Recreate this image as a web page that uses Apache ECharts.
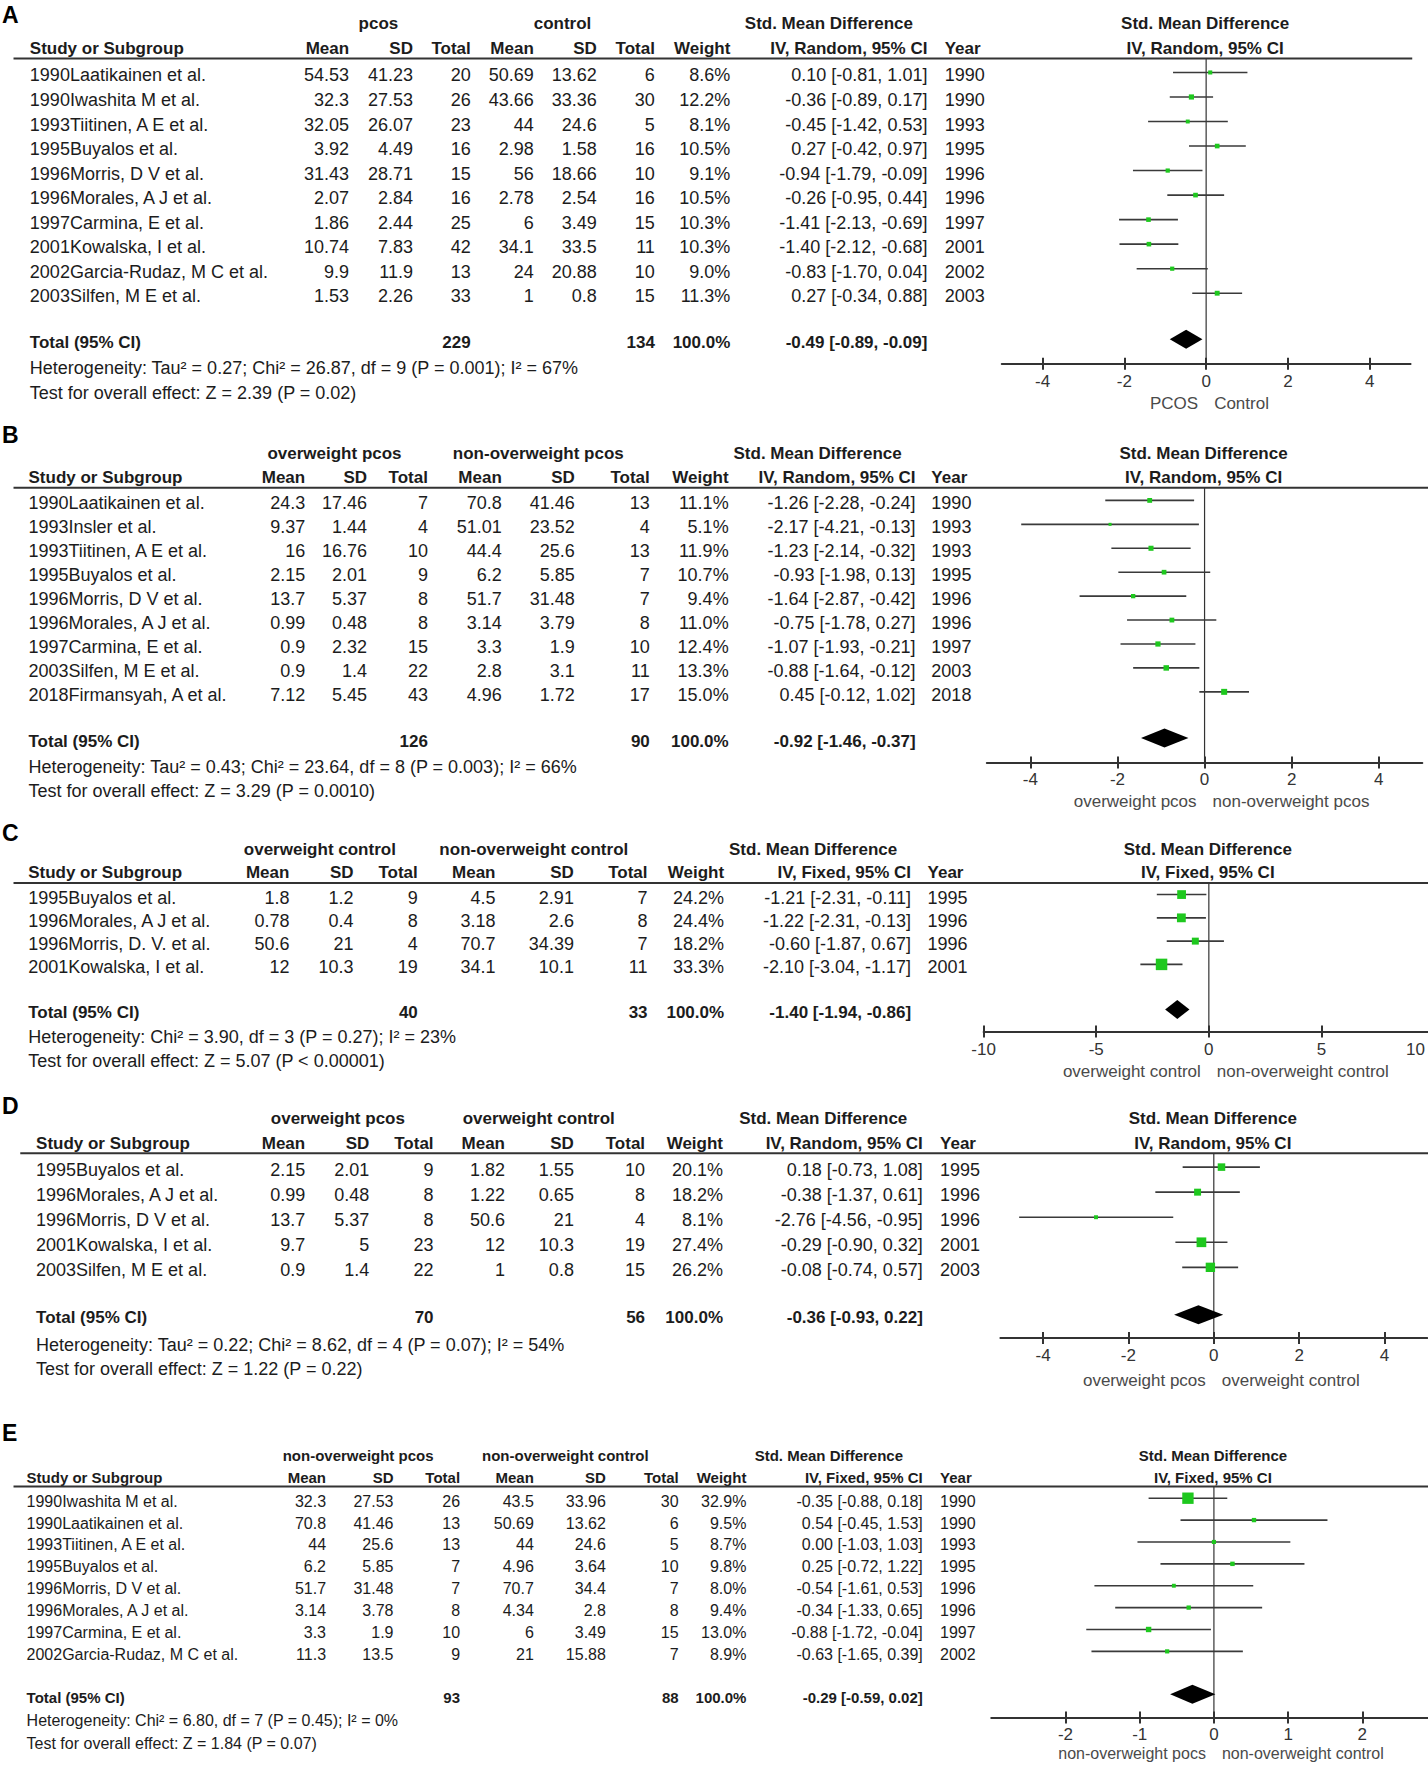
<!DOCTYPE html>
<html><head><meta charset="utf-8">
<script src="https://cdn.jsdelivr.net/npm/echarts@6/dist/echarts.min.js"></script>
<style>html,body{margin:0;padding:0;background:#fff}#c{width:1428px;height:1766px}</style>
</head><body><div id="c"></div>
<script>
// ================= DATA =================
// Panel A
const A_study = ["1990Laatikainen et al.","1990Iwashita M et al.","1993Tiitinen, A E et al.","1995Buyalos et al.","1996Morris, D V et al.","1996Morales, A J et al.","1997Carmina, E et al.","2001Kowalska, I et al.","2002Garcia-Rudaz, M C et al.","2003Silfen, M E et al."];
const A_mean1 = [54.53,32.3,32.05,3.92,31.43,2.07,1.86,10.74,9.9,1.53];
const A_sd1 = [41.23,27.53,26.07,4.49,28.71,2.84,2.44,7.83,11.9,2.26];
const A_n1 = [20,26,23,16,15,16,25,42,13,33];
const A_mean2 = [50.69,43.66,44,2.98,56,2.78,6,34.1,24,1];
const A_sd2 = [13.62,33.36,24.6,1.58,18.66,2.54,3.49,33.5,20.88,0.8];
const A_n2 = [6,30,5,16,10,16,15,11,10,15];
const A_weight = [8.6,12.2,8.1,10.5,9.1,10.5,10.3,10.3,9.0,11.3];
const A_smd = [0.10,-0.36,-0.45,0.27,-0.94,-0.26,-1.41,-1.40,-0.83,0.27];
const A_lo = [-0.81,-0.89,-1.42,-0.42,-1.79,-0.95,-2.13,-2.12,-1.70,-0.34];
const A_hi = [1.01,0.17,0.53,0.97,-0.09,0.44,-0.69,-0.68,0.04,0.88];
const A_year = [1990,1990,1993,1995,1996,1996,1997,2001,2002,2003];
const A_total = [229,134,100.0,-0.49,-0.89,-0.09];
const A_groups = ["pcos","control"];
const A_method = "IV, Random, 95% CI";
const A_het = "Heterogeneity: Tau² = 0.27; Chi² = 26.87, df = 9 (P = 0.001); I² = 67%";
const A_test = "Test for overall effect: Z = 2.39 (P = 0.02)";
const A_ticks = [-4,-2,0,2,4];
const A_range = [-5,5];
const A_sides = ["PCOS","Control"];

// Panel B
const B_study = ["1990Laatikainen et al.","1993Insler et al.","1993Tiitinen, A E et al.","1995Buyalos et al.","1996Morris, D V et al.","1996Morales, A J et al.","1997Carmina, E et al.","2003Silfen, M E et al.","2018Firmansyah, A et al."];
const B_mean1 = [24.3,9.37,16,2.15,13.7,0.99,0.9,0.9,7.12];
const B_sd1 = [17.46,1.44,16.76,2.01,5.37,0.48,2.32,1.4,5.45];
const B_n1 = [7,4,10,9,8,8,15,22,43];
const B_mean2 = [70.8,51.01,44.4,6.2,51.7,3.14,3.3,2.8,4.96];
const B_sd2 = [41.46,23.52,25.6,5.85,31.48,3.79,1.9,3.1,1.72];
const B_n2 = [13,4,13,7,7,8,10,11,17];
const B_weight = [11.1,5.1,11.9,10.7,9.4,11.0,12.4,13.3,15.0];
const B_smd = [-1.26,-2.17,-1.23,-0.93,-1.64,-0.75,-1.07,-0.88,0.45];
const B_lo = [-2.28,-4.21,-2.14,-1.98,-2.87,-1.78,-1.93,-1.64,-0.12];
const B_hi = [-0.24,-0.13,-0.32,0.13,-0.42,0.27,-0.21,-0.12,1.02];
const B_year = [1990,1993,1993,1995,1996,1996,1997,2003,2018];
const B_total = [126,90,100.0,-0.92,-1.46,-0.37];
const B_groups = ["overweight pcos","non-overweight pcos"];
const B_method = "IV, Random, 95% CI";
const B_het = "Heterogeneity: Tau² = 0.43; Chi² = 23.64, df = 8 (P = 0.003); I² = 66%";
const B_test = "Test for overall effect: Z = 3.29 (P = 0.0010)";
const B_ticks = [-4,-2,0,2,4];
const B_range = [-5,5];
const B_sides = ["overweight pcos","non-overweight pcos"];

// Panel C
const C_study = ["1995Buyalos et al.","1996Morales, A J et al.","1996Morris, D. V. et al.","2001Kowalska, I et al."];
const C_mean1 = [1.8,0.78,50.6,12];
const C_sd1 = [1.2,0.4,21,10.3];
const C_n1 = [9,8,4,19];
const C_mean2 = [4.5,3.18,70.7,34.1];
const C_sd2 = [2.91,2.6,34.39,10.1];
const C_n2 = [7,8,7,11];
const C_weight = [24.2,24.4,18.2,33.3];
const C_smd = [-1.21,-1.22,-0.60,-2.10];
const C_lo = [-2.31,-2.31,-1.87,-3.04];
const C_hi = [-0.11,-0.13,0.67,-1.17];
const C_year = [1995,1996,1996,2001];
const C_total = [40,33,100.0,-1.40,-1.94,-0.86];
const C_groups = ["overweight control","non-overweight control"];
const C_method = "IV, Fixed, 95% CI";
const C_het = "Heterogeneity: Chi² = 3.90, df = 3 (P = 0.27); I² = 23%";
const C_test = "Test for overall effect: Z = 5.07 (P < 0.00001)";
const C_ticks = [-10,-5,0,5,10];
const C_range = [-10,10];
const C_sides = ["overweight control","non-overweight control"];

// Panel D
const D_study = ["1995Buyalos et al.","1996Morales, A J et al.","1996Morris, D V et al.","2001Kowalska, I et al.","2003Silfen, M E et al."];
const D_mean1 = [2.15,0.99,13.7,9.7,0.9];
const D_sd1 = [2.01,0.48,5.37,5,1.4];
const D_n1 = [9,8,8,23,22];
const D_mean2 = [1.82,1.22,50.6,12,1];
const D_sd2 = [1.55,0.65,21,10.3,0.8];
const D_n2 = [10,8,4,19,15];
const D_weight = [20.1,18.2,8.1,27.4,26.2];
const D_smd = [0.18,-0.38,-2.76,-0.29,-0.08];
const D_lo = [-0.73,-1.37,-4.56,-0.90,-0.74];
const D_hi = [1.08,0.61,-0.95,0.32,0.57];
const D_year = [1995,1996,1996,2001,2003];
const D_total = [70,56,100.0,-0.36,-0.93,0.22];
const D_groups = ["overweight pcos","overweight control"];
const D_method = "IV, Random, 95% CI";
const D_het = "Heterogeneity: Tau² = 0.22; Chi² = 8.62, df = 4 (P = 0.07); I² = 54%";
const D_test = "Test for overall effect: Z = 1.22 (P = 0.22)";
const D_ticks = [-4,-2,0,2,4];
const D_range = [-5,5];
const D_sides = ["overweight pcos","overweight control"];

// Panel E
const E_study = ["1990Iwashita M et al.","1990Laatikainen et al.","1993Tiitinen, A E et al.","1995Buyalos et al.","1996Morris, D V et al.","1996Morales, A J et al.","1997Carmina, E et al.","2002Garcia-Rudaz, M C et al."];
const E_mean1 = [32.3,70.8,44,6.2,51.7,3.14,3.3,11.3];
const E_sd1 = [27.53,41.46,25.6,5.85,31.48,3.78,1.9,13.5];
const E_n1 = [26,13,13,7,7,8,10,9];
const E_mean2 = [43.5,50.69,44,4.96,70.7,4.34,6,21];
const E_sd2 = [33.96,13.62,24.6,3.64,34.4,2.8,3.49,15.88];
const E_n2 = [30,6,5,10,7,8,15,7];
const E_weight = [32.9,9.5,8.7,9.8,8.0,9.4,13.0,8.9];
const E_smd = [-0.35,0.54,0.00,0.25,-0.54,-0.34,-0.88,-0.63];
const E_lo = [-0.88,-0.45,-1.03,-0.72,-1.61,-1.33,-1.72,-1.65];
const E_hi = [0.18,1.53,1.03,1.22,0.53,0.65,-0.04,0.39];
const E_year = [1990,1990,1993,1995,1996,1996,1997,2002];
const E_total = [93,88,100.0,-0.29,-0.59,0.02];
const E_groups = ["non-overweight pcos","non-overweight control"];
const E_method = "IV, Fixed, 95% CI";
const E_het = "Heterogeneity: Chi² = 6.80, df = 7 (P = 0.45); I² = 0%";
const E_test = "Test for overall effect: Z = 1.84 (P = 0.07)";
const E_ticks = [-2,-1,0,1,2];
const E_range = [-3,3];
const E_sides = ["non-overweight pocs","non-overweight control"];

// ================= LAYOUT (reference px at 1268 wide, scaled) =================
const W = 1428, H = 1766;
const S = W / 1268;
const FONT = '"Liberation Sans", Arial, Helvetica, sans-serif';
const TXT = '#1c1c1c';
const MO = 3; // marks sit slightly above text centre

const PANELS = [
  {letter:'A', d:{study:A_study,m1:A_mean1,s1:A_sd1,n1:A_n1,m2:A_mean2,s2:A_sd2,n2:A_n2,w:A_weight,smd:A_smd,lo:A_lo,hi:A_hi,year:A_year,total:A_total,groups:A_groups,method:A_method,het:A_het,test:A_test,ticks:A_ticks,range:A_range,sides:A_sides},
   L:{letterY:13,groupY:21,headY:43,lineY:52,row0:67,step:21.78,totalY:304,hetY:327,testY:349,axisY:323,sideY:358,lineX0:12,lineX1:1254,
      col:{study:26.5,m1:310,s1:366.7,n1:418,m2:474,s2:530,n2:581.5,w:648.5,ci:823.5,year:838.8},g1:336,g2:499.5,smdT:736,zero:1071,unit:36.3}},
  {letter:'B', d:{study:B_study,m1:B_mean1,s1:B_sd1,n1:B_n1,m2:B_mean2,s2:B_sd2,n2:B_n2,w:B_weight,smd:B_smd,lo:B_lo,hi:B_hi,year:B_year,total:B_total,groups:B_groups,method:B_method,het:B_het,test:B_test,ticks:B_ticks,range:B_range,sides:B_sides},
   L:{letterY:386,groupY:403,headY:424,lineY:433,row0:447,step:21.25,totalY:658,hetY:681,testY:702,axisY:677,sideY:712,lineX0:12,lineX1:1268,
      col:{study:25.3,m1:271,s1:326,n1:380,m2:445.6,s2:510.4,n2:577,w:647,ci:813,year:827},g1:297,g2:478,smdT:726,zero:1069.6,unit:38.67}},
  {letter:'C', d:{study:C_study,m1:C_mean1,s1:C_sd1,n1:C_n1,m2:C_mean2,s2:C_sd2,n2:C_n2,w:C_weight,smd:C_smd,lo:C_lo,hi:C_hi,year:C_year,total:C_total,groups:C_groups,method:C_method,het:C_het,test:C_test,ticks:C_ticks,range:C_range,sides:C_sides},
   L:{letterY:740,groupY:754,headY:775,lineY:784,row0:797,step:20.67,totalY:899,hetY:921,testY:942,axisY:916,sideY:951,lineX0:12,lineX1:1268,
      col:{study:25,m1:257,s1:314,n1:371,m2:440,s2:509.6,n2:575,w:643,ci:809,year:823.6},g1:284,g2:474,smdT:722,zero:1073.4,unit:20}},
  {letter:'D', d:{study:D_study,m1:D_mean1,s1:D_sd1,n1:D_n1,m2:D_mean2,s2:D_sd2,n2:D_n2,w:D_weight,smd:D_smd,lo:D_lo,hi:D_hi,year:D_year,total:D_total,groups:D_groups,method:D_method,het:D_het,test:D_test,ticks:D_ticks,range:D_range,sides:D_sides},
   L:{letterY:982,groupY:993,headY:1015,lineY:1024,row0:1039,step:22.25,totalY:1170,hetY:1194,testY:1216,axisY:1188,sideY:1226,lineX0:18,lineX1:1268,
      col:{study:32,m1:271,s1:328,n1:385,m2:448.4,s2:509.6,n2:572.8,w:642,ci:819.4,year:834.7},g1:300,g2:478.4,smdT:731,zero:1077.8,unit:37.9}},
  {letter:'E', d:{study:E_study,m1:E_mean1,s1:E_sd1,n1:E_n1,m2:E_mean2,s2:E_sd2,n2:E_n2,w:E_weight,smd:E_smd,lo:E_lo,hi:E_hi,year:E_year,total:E_total,groups:E_groups,method:E_method,het:E_het,test:E_test,ticks:E_ticks,range:E_range,sides:E_sides},
   L:{letterY:1272,groupY:1292,headY:1312,lineY:1320,row0:1333,step:19.43,totalY:1507,hetY:1528,testY:1548,axisY:1525,sideY:1557,lineX0:12,lineX1:1268,
      col:{study:23.6,m1:289.5,s1:349.4,n1:408.5,m2:474,s2:538,n2:602.6,w:662.8,ci:819.4,year:834.7},g1:318,g2:502,smdT:736,zero:1077.9,unit:65.9,
      font:16,bfont:15,sfont:16}}
];

function T(x, y, text, font, align, fill) {
  return {type:'text', x:x, y:y, silent:true, z:10,
    style:{text:String(text), font:font, fill:fill || TXT,
      align:align, verticalAlign:'middle', textAlign:align, textVerticalAlign:'middle'}};
}
const ciText = (e, l, h) => e.toFixed(2) + ' [' + l.toFixed(2) + ', ' + h.toFixed(2) + ']';

function ciRender(params, api) {
  const e = api.value(0), lo = api.value(1), hi = api.value(2), y = api.value(3), w = api.value(4);
  const p1 = api.coord([lo, y]), p2 = api.coord([hi, y]), pc = api.coord([e, y]);
  const s = 0.3 * w + 1.5;
  return {type:'group', children:[
    {type:'line', shape:{x1:p1[0], y1:p1[1], x2:p2[0], y2:p2[1]}, style:{stroke:'#3a3a3a', lineWidth:1.6}},
    {type:'rect', shape:{x:pc[0]-s/2, y:pc[1]-s/2, width:s, height:s}, style:{fill:'#1ec81e'}}
  ]};
}
function diamondRender(params, api) {
  const e = api.value(0), lo = api.value(1), hi = api.value(2), y = api.value(3);
  const pl = api.coord([lo, y]), pr = api.coord([hi, y]), pc = api.coord([e, y]);
  const h = 9.5;
  return {type:'polygon', shape:{points:[[pl[0],pl[1]],[pc[0],pc[1]-h],[pr[0],pr[1]],[pc[0],pc[1]+h]]}, style:{fill:'#000'}};
}

const graphics = [], grids = [], xAxes = [], yAxes = [], series = [];

PANELS.forEach((P, pi) => {
  const d = P.d, L = P.L, c = L.col;
  const X = v => v * S;
  const fs = L.font || 18, bfs = L.bfont || 17, sfs = L.sfont || 17;
  const reg = fs + 'px ' + FONT, bold = 'bold ' + bfs + 'px ' + FONT, side = sfs + 'px ' + FONT;
  const rowY = i => X(L.row0 + i * L.step);

  // panel letter
  graphics.push(T(2, X(L.letterY), P.letter, 'bold 23px ' + FONT, 'left', '#000'));
  // group header row
  graphics.push(T(X(L.g1), X(L.groupY), d.groups[0], bold, 'center'));
  graphics.push(T(X(L.g2), X(L.groupY), d.groups[1], bold, 'center'));
  graphics.push(T(X(L.smdT), X(L.groupY), 'Std. Mean Difference', bold, 'center'));
  graphics.push(T(X(L.zero) - 1, X(L.groupY), 'Std. Mean Difference', bold, 'center'));
  // column header row
  const hy = X(L.headY);
  graphics.push(T(X(c.study), hy, 'Study or Subgroup', bold, 'left'));
  graphics.push(T(X(c.m1), hy, 'Mean', bold, 'right'));
  graphics.push(T(X(c.s1), hy, 'SD', bold, 'right'));
  graphics.push(T(X(c.n1), hy, 'Total', bold, 'right'));
  graphics.push(T(X(c.m2), hy, 'Mean', bold, 'right'));
  graphics.push(T(X(c.s2), hy, 'SD', bold, 'right'));
  graphics.push(T(X(c.n2), hy, 'Total', bold, 'right'));
  graphics.push(T(X(c.w), hy, 'Weight', bold, 'right'));
  graphics.push(T(X(c.ci), hy, d.method, bold, 'right'));
  graphics.push(T(X(c.year), hy, 'Year', bold, 'left'));
  graphics.push(T(X(L.zero) - 1, hy, d.method, bold, 'center'));
  // header rule
  graphics.push({type:'line', silent:true, z:10, shape:{x1:X(L.lineX0), y1:X(L.lineY), x2:X(L.lineX1), y2:X(L.lineY)},
    style:{stroke:'#333', lineWidth:2}});
  // study rows
  d.study.forEach((name, i) => {
    const y = rowY(i);
    graphics.push(T(X(c.study), y, name, reg, 'left'));
    graphics.push(T(X(c.m1), y, d.m1[i], reg, 'right'));
    graphics.push(T(X(c.s1), y, d.s1[i], reg, 'right'));
    graphics.push(T(X(c.n1), y, d.n1[i], reg, 'right'));
    graphics.push(T(X(c.m2), y, d.m2[i], reg, 'right'));
    graphics.push(T(X(c.s2), y, d.s2[i], reg, 'right'));
    graphics.push(T(X(c.n2), y, d.n2[i], reg, 'right'));
    graphics.push(T(X(c.w), y, d.w[i].toFixed(1) + '%', reg, 'right'));
    graphics.push(T(X(c.ci), y, ciText(d.smd[i], d.lo[i], d.hi[i]), reg, 'right'));
    graphics.push(T(X(c.year), y, d.year[i], reg, 'left'));
  });
  // total row
  const ty = X(L.totalY);
  graphics.push(T(X(c.study), ty, 'Total (95% CI)', bold, 'left'));
  graphics.push(T(X(c.n1), ty, d.total[0], bold, 'right'));
  graphics.push(T(X(c.n2), ty, d.total[1], bold, 'right'));
  graphics.push(T(X(c.w), ty, d.total[2].toFixed(1) + '%', bold, 'right'));
  graphics.push(T(X(c.ci), ty, ciText(d.total[3], d.total[4], d.total[5]), bold, 'right'));
  graphics.push(T(X(c.study), X(L.hetY), d.het, reg, 'left'));
  graphics.push(T(X(c.study), X(L.testY), d.test, reg, 'left'));
  // side labels under the axis
  graphics.push(T(X(L.zero) - 8, X(L.sideY), d.sides[0], side, 'right', '#4a4a4a'));
  graphics.push(T(X(L.zero) + 8, X(L.sideY), d.sides[1], side, 'left', '#4a4a4a'));

  // ---- forest plot grid ----
  const top = X(L.lineY), bottom = X(L.axisY);
  const r0 = X(L.row0) - MO, st = X(L.step);
  const yMin = (top - r0) / st, yMax = (bottom - r0) / st;
  const gLeft = X(L.zero + d.range[0] * L.unit), gWidth = X((d.range[1] - d.range[0]) * L.unit);
  grids.push({left: gLeft, width: gWidth, top: top, height: bottom - top, containLabel:false, outerBoundsMode:'none'});
  // keep the last tick label inside the page when its tick falls at/over the right edge
  const lastTick = d.ticks[d.ticks.length - 1];
  const lastTickPx = gLeft + (lastTick - d.range[0]) / (d.range[1] - d.range[0]) * gWidth;
  const pushIn = lastTickPx > W - 12;
  const tickStyle = {color:'#333', width:2};
  xAxes.push({type:'value', gridIndex:pi, position:'bottom', min:d.range[0], max:d.range[1],
    axisLine:{show:true, onZero:false, lineStyle:tickStyle},
    axisTick:{show:true, inside:false, length:6, customValues:d.ticks, lineStyle:tickStyle},
    axisLabel:{show:true, customValues:d.ticks, margin:9, color:'#333', fontSize:17, fontFamily:FONT,
      hideOverlap:false, alignMaxLabel: pushIn ? 'right' : null,
      formatter: v => (pushIn && v === lastTick) ? '{m|' + v + '}' : String(v),
      rich:{m:{fontSize:17, fontFamily:FONT, color:'#333', padding:[0, Math.max(0, lastTickPx - (W - 3)), 0, 0]}}},
    splitLine:{show:false}});
  xAxes.push({type:'value', gridIndex:pi, position:'bottom', min:d.range[0], max:d.range[1],
    axisLine:{show:false, onZero:false},
    axisTick:{show:true, inside:true, length:6, customValues:d.ticks, lineStyle:tickStyle},
    axisLabel:{show:false}, splitLine:{show:false}});
  yAxes.push({type:'value', gridIndex:pi, inverse:true, min:yMin, max:yMax, show:false});
  const xi = pi * 2;
  series.push({type:'line', xAxisIndex:xi, yAxisIndex:pi, data:[[0, yMin],[0, yMax]],
    showSymbol:false, symbol:'none', silent:true, z:1, lineStyle:{color:'#333', width:1.2}});
  series.push({type:'custom', xAxisIndex:xi, yAxisIndex:pi, z:3, silent:true,
    data: d.smd.map((e, i) => [e, d.lo[i], d.hi[i], i, d.w[i]]),
    encode:{x:[0,1,2], y:3}, renderItem: ciRender});
  const tIdx = (L.totalY - L.row0) / L.step;
  series.push({type:'custom', xAxisIndex:xi, yAxisIndex:pi, z:3, silent:true,
    data: [[d.total[3], d.total[4], d.total[5], tIdx]],
    encode:{x:[0,1,2], y:3}, renderItem: diamondRender});
});

const chart = echarts.init(document.getElementById('c'), null, {renderer:'svg', width:W, height:H});
chart.setOption({
  animation:false, backgroundColor:'#fff',
  grid:grids, xAxis:xAxes, yAxis:yAxes, series:series,
  graphic:{elements:graphics}
});
</script>
</body></html>
